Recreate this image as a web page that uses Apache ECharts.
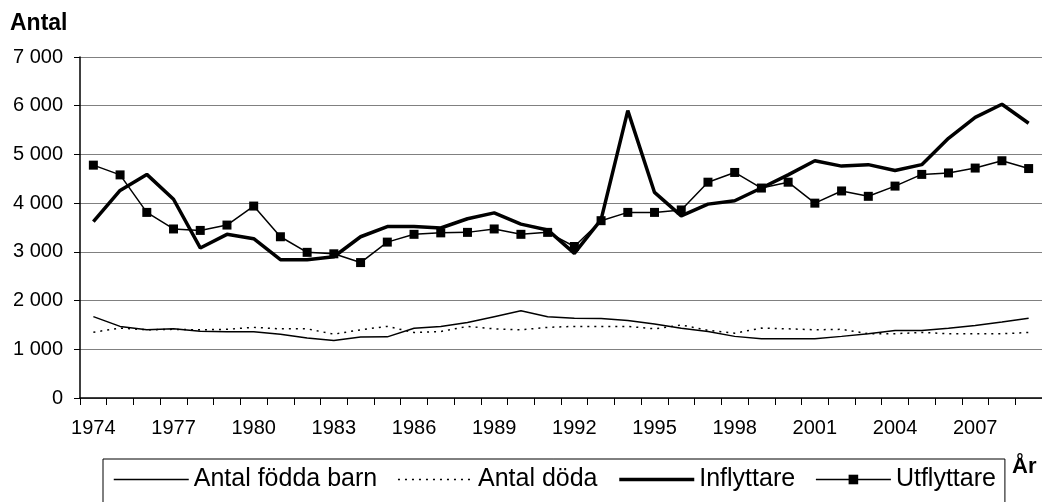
<!DOCTYPE html>
<html>
<head>
<meta charset="utf-8">
<script src="https://cdn.jsdelivr.net/npm/echarts@6/dist/echarts.min.js"></script>
<style>
html,body{margin:0;padding:0;background:#fff;}
#c{width:1042px;height:502px;}
</style>
</head>
<body>
<div id="c"></div>
<script>
const years = [1974,1975,1976,1977,1978,1979,1980,1981,1982,1983,1984,1985,1986,1987,1988,1989,1990,1991,1992,1993,1994,1995,1996,1997,1998,1999,2000,2001,2002,2003,2004,2005,2006,2007,2008,2009];
const foddaBarn = [1670,1470,1400,1420,1370,1360,1360,1310,1230,1180,1250,1255,1430,1470,1550,1670,1790,1670,1635,1630,1590,1520,1430,1365,1265,1215,1215,1215,1265,1320,1385,1385,1430,1490,1560,1635];
const antalDoda = [1350,1435,1400,1410,1400,1410,1450,1420,1420,1310,1400,1470,1345,1365,1470,1420,1400,1450,1470,1470,1470,1420,1500,1390,1330,1435,1420,1400,1410,1320,1320,1345,1320,1320,1320,1345];
const inflyttare = [3620,4260,4590,4080,3080,3360,3270,2840,2840,2900,3310,3520,3520,3490,3680,3800,3570,3450,2970,3660,5900,4220,3740,3980,4050,4310,4580,4870,4760,4790,4670,4790,5330,5760,6030,5640];
const utflyttare = [4780,4580,3810,3470,3440,3550,3940,3310,2990,2960,2780,3200,3360,3390,3400,3470,3360,3400,3110,3640,3810,3810,3860,4430,4630,4310,4430,4000,4250,4140,4350,4590,4620,4720,4870,4710];
const seriesNames = ['Antal födda barn','Antal döda','Inflyttare','Utflyttare'];
const yTicks = [0,1000,2000,3000,4000,5000,6000,7000];

const FONT = '"Liberation Sans", Arial, sans-serif';
const chart = echarts.init(document.getElementById('c'), null, {renderer:'canvas'});
chart.setOption({
  animation:false,
  backgroundColor:'#fff',
  textStyle:{fontFamily:FONT},
  grid:{left:80, right:-6, top:57, bottom:104, containLabel:false},
  legend:{
    left:103, top:459,
    orient:'horizontal',
    itemWidth:75, itemHeight:12, itemGap:20,
    padding:[8,9,20,10],
    borderColor:'#000', borderWidth:1,
    textStyle:{fontSize:25, color:'#000', fontFamily:FONT},
    data:[
      {name:seriesNames[0], itemStyle:{opacity:0}, lineStyle:{color:'#000', width:1.5}},
      {name:seriesNames[1], itemStyle:{opacity:0}, lineStyle:{color:'#000', width:1.5, type:[2,5]}},
      {name:seriesNames[2], itemStyle:{opacity:0}, lineStyle:{color:'#000', width:3.5}},
      {name:seriesNames[3], lineStyle:{color:'#000', width:1.5}}
    ]
  },
  xAxis:{
    type:'category',
    data:years,
    boundaryGap:true,
    axisLine:{lineStyle:{color:'#000', width:1.5}},
    axisTick:{show:true, interval:0, length:7, lineStyle:{color:'#000', width:1}},
    axisLabel:{interval:2, color:'#000', fontSize:20, margin:20, fontFamily:FONT},
    splitLine:{show:false}
  },
  yAxis:{
    type:'value',
    min:yTicks[0], max:yTicks[yTicks.length-1], interval:1000,
    axisLine:{show:true, lineStyle:{color:'#000', width:1.5}},
    axisTick:{show:true, length:6, lineStyle:{color:'#000', width:1}},
    axisLabel:{color:'#000', fontSize:20, margin:17, fontFamily:FONT,
      formatter:function(v){ return String(v).replace(/\B(?=(\d{3})+(?!\d))/g,' '); }},
    splitLine:{show:true, lineStyle:{color:'#808080', width:1}}
  },
  series:[
    {name:seriesNames[0], type:'line', data:foddaBarn, symbol:'none', lineStyle:{color:'#000', width:1.5}, itemStyle:{color:'#000'}},
    {name:seriesNames[1], type:'line', data:antalDoda, symbol:'none', lineStyle:{color:'#000', width:1.5, type:[2,5]}, itemStyle:{color:'#000'}},
    {name:seriesNames[2], type:'line', data:inflyttare, symbol:'none', lineStyle:{color:'#000', width:3.5}, itemStyle:{color:'#000'}},
    {name:seriesNames[3], type:'line', data:utflyttare, symbol:'rect', symbolSize:9, lineStyle:{color:'#000', width:1.5}, itemStyle:{color:'#000'}}
  ],
  graphic:[
    {type:'text', left:10, top:12, style:{text:'Antal', font:'bold 23px '+FONT, fill:'#000'}},
    {type:'text', left:1012, top:456, style:{text:'År', font:'bold 22px '+FONT, fill:'#000'}}
  ]
});
</script>
</body>
</html>
